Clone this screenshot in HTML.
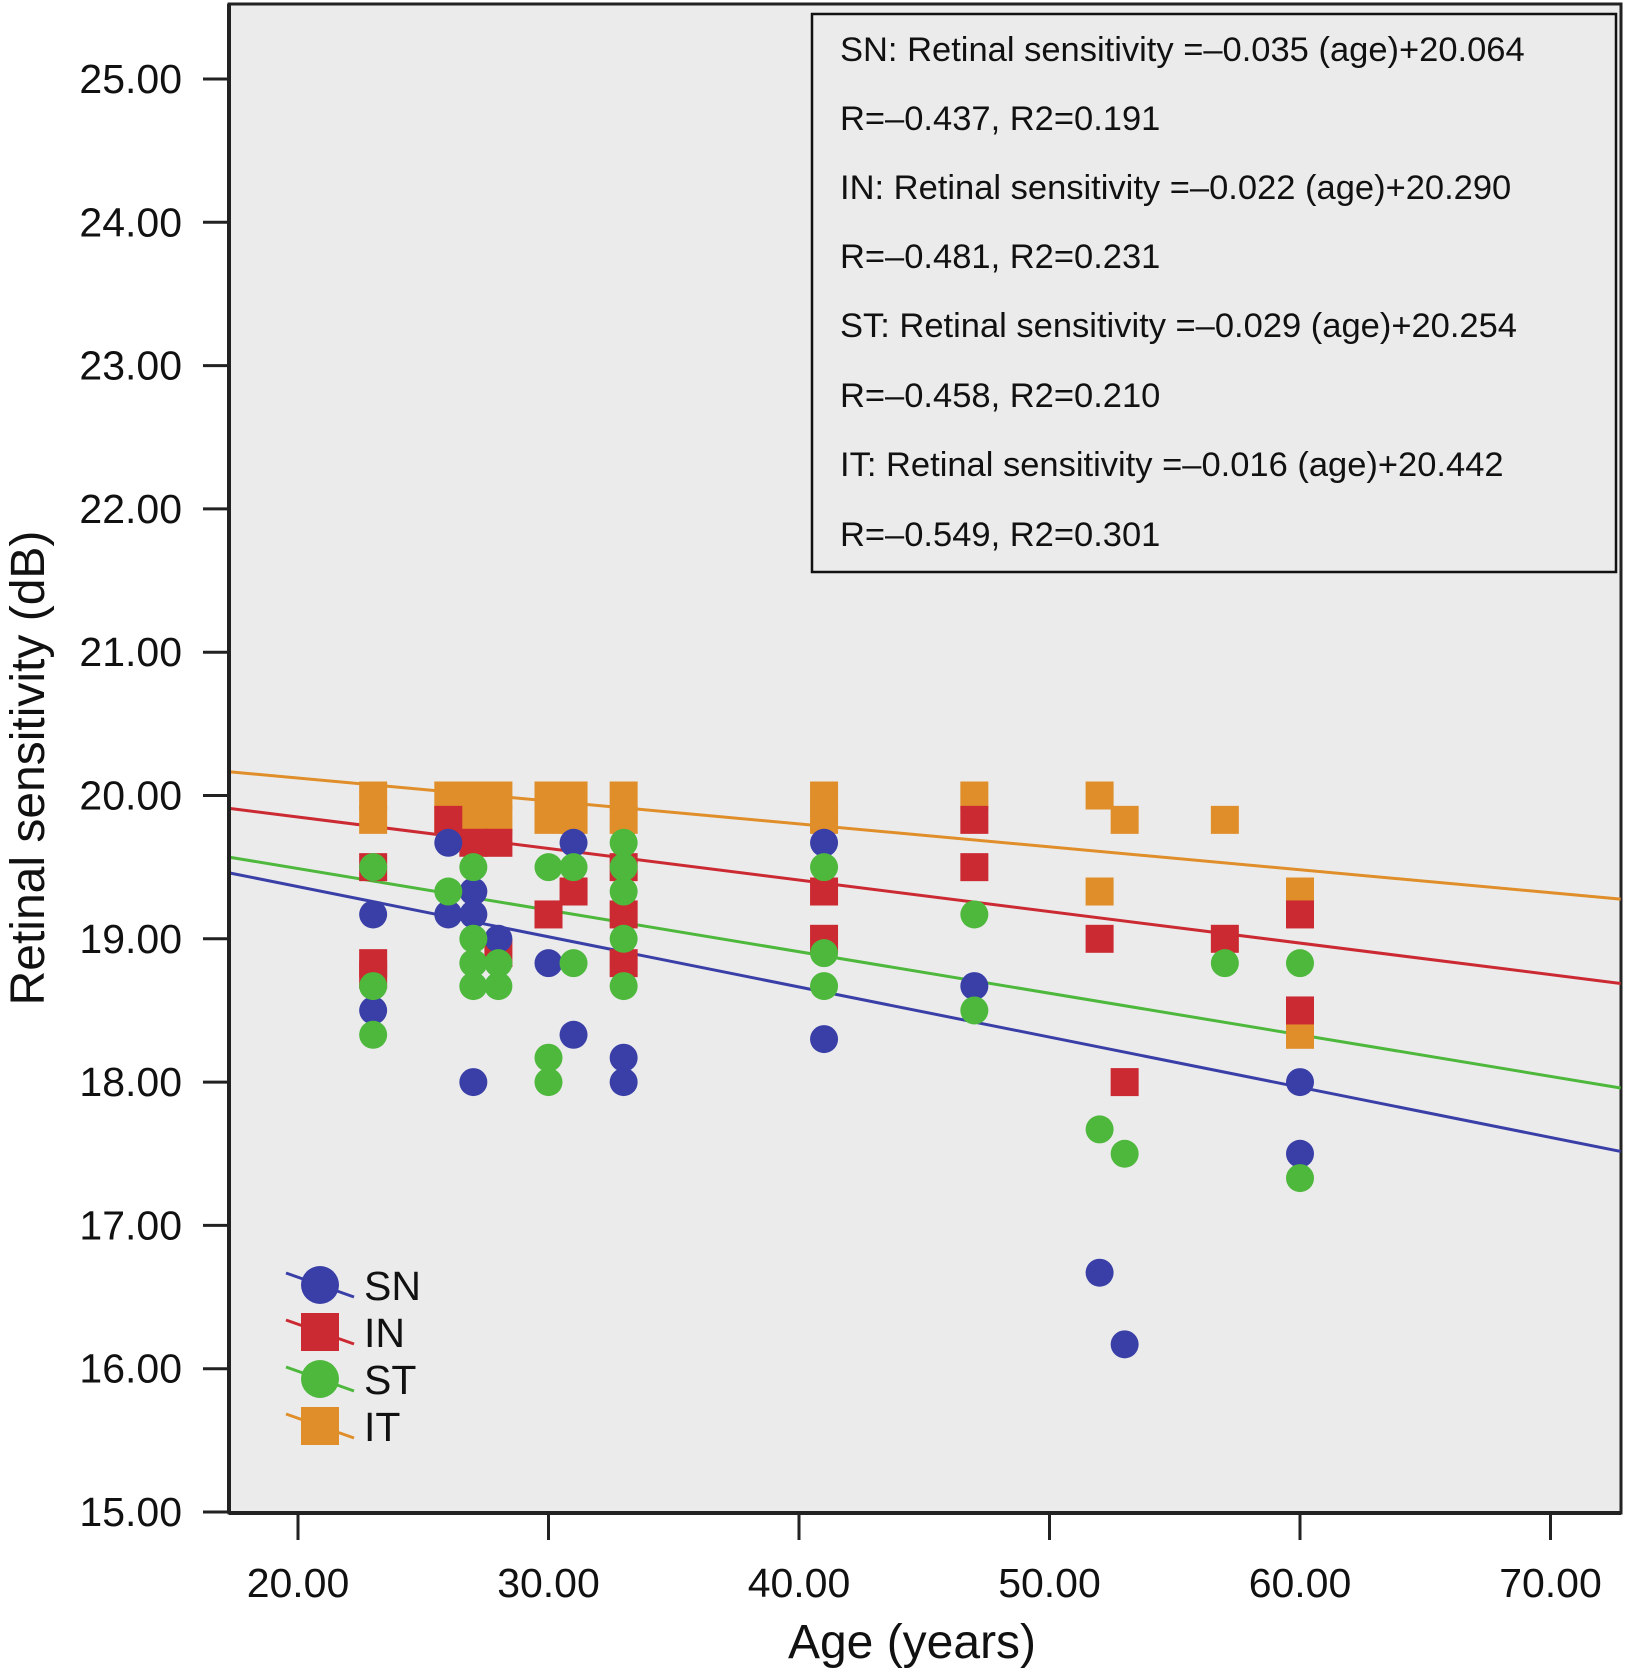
<!DOCTYPE html>
<html><head><meta charset="utf-8"><style>
body{margin:0;background:#fff;}
svg{display:block;font-family:"Liberation Sans",sans-serif;}
</style></head><body>
<svg id="chart" width="1625" height="1670" viewBox="0 0 1625 1670">
<rect x="229" y="4" width="1392" height="1509" fill="#ebebeb" stroke="#222" stroke-width="3"/>
<g id="lines"></g>
<g id="marks"></g>
<g id="axes"></g>
<g>
<rect x="812" y="14" width="804" height="558" fill="#ebebeb" stroke="#111" stroke-width="2.5"/>
<g font-size="34.5" fill="#111">
<text x="840" y="61">SN: Retinal sensitivity =–0.035 (age)+20.064</text>
<text x="840" y="130">R=–0.437, R2=0.191</text>
<text x="840" y="199">IN: Retinal sensitivity =–0.022 (age)+20.290</text>
<text x="840" y="268">R=–0.481, R2=0.231</text>
<text x="840" y="337">ST: Retinal sensitivity =–0.029 (age)+20.254</text>
<text x="840" y="407">R=–0.458, R2=0.210</text>
<text x="840" y="476">IT: Retinal sensitivity =–0.016 (age)+20.442</text>
<text x="840" y="546">R=–0.549, R2=0.301</text>
</g></g>
<g id="legend"></g>
<text x="912" y="1658" font-size="48" text-anchor="middle" fill="#111">Age (years)</text>
<text transform="translate(44,768) rotate(-90)" font-size="48" text-anchor="middle" fill="#111">Retinal sensitivity (dB)</text>
</svg>
<script>
const xTicks=[20,30,40,50,60,70];
const yTicks=[15,16,17,18,19,20,21,22,23,24,25];
const seriesNames=["SN","IN","ST","IT"];
const seriesColors=["#3a3fa8","#cc2a33","#4db83c","#e08e2a"];
const slopes=[-0.035,-0.022,-0.029,-0.016];
const intercepts=[20.064,20.290,20.07,20.442];
const snAge=[23,23,26,26,27,27,27,28,30,31,31,33,33,41,41,47,52,53,60,60];
const snVal=[19.17,18.5,19.67,19.17,19.33,19.17,18.0,19.0,18.83,19.67,18.33,18.17,18.0,19.67,18.3,18.67,16.67,16.17,18.0,17.5];
const inAge=[23,23,23,26,27,28,28,30,31,33,33,33,41,41,47,47,52,53,57,60,60];
const inVal=[19.5,18.83,18.75,19.83,19.67,19.67,18.9,19.17,19.33,19.17,18.83,19.5,19.33,19.0,19.83,19.5,19.0,18.0,19.0,19.17,18.5];
const stAge=[23,23,23,26,27,27,27,27,28,28,30,30,30,31,31,33,33,33,33,33,41,41,41,47,47,52,53,57,60,60];
const stVal=[19.5,18.67,18.33,19.33,19.5,19.0,18.83,18.67,18.83,18.67,19.5,18.17,18.0,19.5,18.83,19.67,19.5,19.33,19.0,18.67,19.5,18.9,18.67,19.17,18.5,17.67,17.5,18.83,18.83,17.33];
const itAge=[23,23,26,26,27,27,28,28,30,30,31,31,33,33,41,41,47,52,52,53,57,60,60];
const itVal=[20,19.83,20,19.83,20,19.83,20,19.83,20,19.83,20,19.83,20,19.83,20,19.83,20,20,19.33,19.83,19.83,19.33,18.33];
const ages=[snAge,inAge,stAge,itAge];
const vals=[snVal,inVal,stVal,itVal];
const X=a=>298+(a-20)*25.05;
const Y=v=>1512-(v-15)*143.3;
const NS="http://www.w3.org/2000/svg";
function mk(t,attrs,parent){const e=document.createElementNS(NS,t);for(const k in attrs)e.setAttribute(k,attrs[k]);parent.appendChild(e);return e;}
const axes=document.getElementById('axes');
mk('line',{x1:229,y1:1513,x2:1621,y2:1513,stroke:'#222','stroke-width':4},axes);
mk('line',{x1:229,y1:4,x2:229,y2:1513,stroke:'#222','stroke-width':4},axes);
xTicks.forEach(t=>{
 const l=mk('line',{x1:X(t),y1:1513,x2:X(t),y2:1540,stroke:'#222','stroke-width':3},axes);
 
 
 const tx=mk('text',{x:X(t),y:1597,'font-size':41,'text-anchor':'middle',fill:'#111'},axes);
 tx.textContent=t.toFixed(2);
 
 
});
yTicks.forEach(t=>{
 const l=mk('line',{x1:203,y1:Y(t),x2:229,y2:Y(t),stroke:'#222','stroke-width':3},axes);
 
 
 const tx=mk('text',{x:182,y:Y(t)+14,'font-size':41,'text-anchor':'end',fill:'#111'},axes);
 tx.textContent=t.toFixed(2);
 
 
});
const marks=document.getElementById('marks');
const order=[3,1,0,2];
order.forEach(s=>{
 ages[s].forEach((a,i)=>{
  let e;
  if(s%2===1) e=mk('rect',{x:X(a)-14,y:Y(vals[s][i])-14,width:28,height:28,fill:seriesColors[s]},marks);
  else e=mk('circle',{cx:X(a),cy:Y(vals[s][i]),r:14,fill:seriesColors[s]},marks);
  
  
 });
});
const lines=document.getElementById('lines');
const x0=17.3,x1=72.8;
seriesNames.forEach((n,s)=>{
 const l=mk('line',{x1:X(x0),y1:Y(slopes[s]*x0+intercepts[s]),x2:X(x1),y2:Y(slopes[s]*x1+intercepts[s]),stroke:seriesColors[s],'stroke-width':3},lines);
 
 
});
const legend=document.getElementById('legend');
seriesNames.forEach((n,s)=>{
 const cy=1285+s*47;
 mk('line',{x1:286,y1:cy-12,x2:354,y2:cy+12,stroke:seriesColors[s],'stroke-width':3},legend);
 let m;
 if(s%2===1) m=mk('rect',{x:301,y:cy-19,width:38,height:38,fill:seriesColors[s]},legend);
 else m=mk('circle',{cx:320,cy:cy,r:19,fill:seriesColors[s]},legend);
 
 
 const t=mk('text',{x:364,y:cy+15,'font-size':41,fill:'#111'},legend);
 t.textContent=n;
 
 
});
</script>
</body></html>
